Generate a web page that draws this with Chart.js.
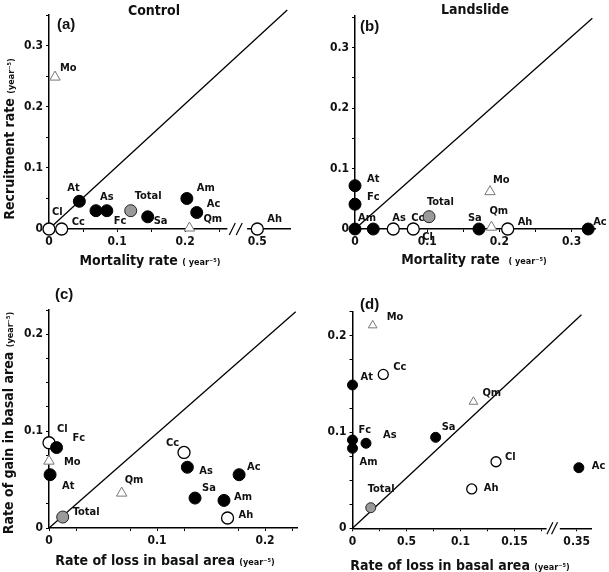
<!DOCTYPE html>
<html>
<head>
<meta charset="utf-8">
<script src="https://cdn.jsdelivr.net/npm/chart.js@4.4.1/dist/chart.umd.min.js"></script>
<style>
  body { margin: 0; background: #fff; width: 609px; height: 572px; position: relative; overflow: hidden;
         font-family: 'Liberation Sans Narrow', 'DejaVu Sans Condensed', sans-serif; font-weight: bold; color: #111; }
  .panel { position: absolute; }
  .txt { position: absolute; white-space: nowrap; line-height: 1; transform: translate(-50%, -50%); }
  .rot { transform: translate(-50%, -50%) rotate(-90deg); }
  .unit { font-size: 9px; }
  .letter { font-family: 'Liberation Sans', Arial, sans-serif; font-size: 15px; transform: translate(0, -50%); }
  .head { font-size: 14px; }
  .axt { font-size: 14px; }
</style>
</head>
<body>
<div class="panel" style="left:0;top:0"><canvas id="pa" width="305" height="280"></canvas></div>
<div class="panel" style="left:305px;top:0"><canvas id="pb" width="304" height="280"></canvas></div>
<div class="panel" style="left:0;top:280px"><canvas id="pc" width="305" height="292"></canvas></div>
<div class="panel" style="left:305px;top:280px"><canvas id="pd" width="304" height="292"></canvas></div>

<div class="txt head" style="left:154px;top:10px">Control</div>
<div class="txt head" style="left:475px;top:9px">Landslide</div>
<div class="txt letter" style="left:57px;top:23px">(a)</div>
<div class="txt letter" style="left:360px;top:25px">(b)</div>
<div class="txt letter" style="left:55px;top:293px">(c)</div>
<div class="txt letter" style="left:360px;top:303px">(d)</div>

<div class="txt axt rot" style="left:9px;top:139px">Recruitment rate <span class="unit">(year⁻⁵)</span></div>
<div class="txt axt" style="left:150px;top:260px">Mortality rate <span class="unit">( year⁻⁵)</span></div>
<div class="txt axt" style="left:474px;top:259px">Mortality rate &nbsp;<span class="unit">( year⁻⁵)</span></div>
<div class="txt axt rot" style="left:8px;top:423px">Rate of gain in basal area <span class="unit">(year⁻⁵)</span></div>
<div class="txt axt" style="left:165px;top:560px">Rate of loss in basal area <span class="unit">(year⁻⁵)</span></div>
<div class="txt axt" style="left:460px;top:565px">Rate of loss in basal area <span class="unit">(year⁻⁵)</span></div>

<script>
// species order used by every panel
const species = ["Ac", "Ah", "Am", "As", "At", "Cc", "Cl", "Fc", "Mo", "Qm", "Sa", "Total"];
const groups  = ["filled", "open", "filled", "filled", "filled", "open", "open", "filled", "triangle", "triangle", "filled", "total"];

// (a) Control: mortality vs recruitment
const mortControl    = [0.217, 0.5, 0.2025, 0.069, 0.0446, 0.0186, 0, 0.0849, 0.0088, 0.2063, 0.145, 0.12];
const recruitControl = [0.027, 0, 0.05, 0.03, 0.0454, 0, 0, 0.03, 0.249, 0.0016, 0.02, 0.03];
// (b) Landslide: mortality vs recruitment
const mortSlide      = [0.323, 0.2115, 0, 0.0253, 0, 0.053, 0.0807, 0, 0.187, 0.189, 0.1717, 0.1025];
const recruitSlide   = [0, 0, 0, 0, 0.0717, 0, 0, 0.041, 0.0618, 0.003, 0, 0.0204];
// (c) Control: loss vs gain in basal area
const lossControl    = [0.176, 0.1653, 0.162, 0.1281, 0.001, 0.125, 0, 0.007, 0, 0.0673, 0.1352, 0.0127];
const gainControl    = [0.055, 0.0103, 0.0285, 0.0627, 0.055, 0.078, 0.088, 0.083, 0.069, 0.036, 0.0309, 0.0113];
// (d) Landslide: loss vs gain in basal area
const lossSlide      = [0.352, 0.1104, 0, 0.0125, 0, 0.0285, 0.1329, 0, 0.0187, 0.112, 0.077, 0.0169];
const gainSlide      = [0.063, 0.0409, 0.0832, 0.0884, 0.149, 0.160, 0.0692, 0.0918, 0.211, 0.1316, 0.0946, 0.0214];

// 1:1 line end points
const diagA = [0.35, 0.359];
const diagB = [0.3287, 0.349];
const diagC = [0.2284, 0.2233];
const diagD = [0.212, 0.222];

// tick labels
const xTicksA = [0, 0.1, 0.2, 0.5],  xLabelsA = ["0", "0.1", "0.2", "0.5"];
const xTicksB = [0, 0.1, 0.2, 0.3],  xLabelsB = ["0", "0.1", "0.2", "0.3"];
const yTicksAB = [0, 0.1, 0.2, 0.3], yLabelsAB = ["0", "0.1", "0.2", "0.3"];
const xTicksC = [0, 0.1, 0.2],       xLabelsC = ["0", "0.1", "0.2"];
const xTicksD = [0, 0.05, 0.1, 0.15, 0.35], xLabelsD = ["0", "0.5", "0.1", "0.15", "0.35"];
const yTicksCD = [0, 0.1, 0.2],      yLabelsCD = ["0", "0.1", "0.2"];

// label offsets (px) from each marker, same order as species
const offA = [[10,-8],[10,-10],[10,-10],[4,-14],[-12,-13],[10,-7],[3,-17],[7,10],[5,-9],[14,-9],[6,4],[4,-15]];
const offB = [[5,-7],[10,-7],[3,-11],[19,-11],[12,-7],[18,-11],[9,8],[12,-7],[3,-12],[-2,-16],[-11,-11],[-2,-15]];
const offC = [[8,-8],[11,-3],[10,-3],[12,4],[12,11],[-18,-9],[8,-14],[16,-9],[15,1],[3,-13],[7,-10],[10,-5]];
const offD = [[13,-2],[12,-1],[7,14],[17,-8],[8,-8],[10,-7],[9,-5],[6,-10],[14,-8],[9,-9],[6,-10],[-3,-19]];

const FONT = "'Liberation Sans Narrow', 'DejaVu Sans Condensed', sans-serif";

const markerStyle = {
  filled:   { pointStyle: "circle",   backgroundColor: "#000", borderColor: "#000", borderWidth: 1 },
  open:     { pointStyle: "circle",   backgroundColor: "#fff", borderColor: "#000", borderWidth: 1.3 },
  triangle: { pointStyle: "triangle", backgroundColor: "#fff", borderColor: "#777", borderWidth: 1 },
  total:    { pointStyle: "circle",   backgroundColor: "#9a9a9a", borderColor: "#222", borderWidth: 1 }
};

function range(a, b, step) {
  const out = [];
  for (let v = a; v <= b + 1e-9; v += step) out.push(Math.round(v * 10000) / 10000);
  return out;
}

// species labels drawn next to the markers
const pointLabels = {
  id: "pointLabels",
  afterDatasetsDraw(chart) {
    const ctx = chart.ctx;
    ctx.save();
    ctx.font = "bold 11px " + FONT;
    ctx.fillStyle = "#111";
    ctx.textBaseline = "middle";
    chart.data.datasets.forEach((ds, i) => {
      if (!ds.names) return;
      chart.getDatasetMeta(i).data.forEach((el, j) => {
        ctx.fillText(ds.names[j], el.x + ds.offsets[j][0], el.y + ds.offsets[j][1]);
      });
    });
    ctx.restore();
  }
};

// gap and "//" marks on a broken x axis
const axisBreak = {
  id: "axisBreak",
  afterDraw(chart, args, opts) {
    if (!opts || opts.cut == null) return;
    const xs = chart.scales.x, ctx = chart.ctx;
    const yb = chart.chartArea.bottom;
    const p1 = xs.getPixelForValue(opts.cut), p2 = xs.getPixelForValue(opts.resume);
    ctx.save();
    ctx.fillStyle = "#fff";
    ctx.fillRect(p1, yb - 3, p2 - p1, 6);
    ctx.strokeStyle = "#000";
    ctx.lineWidth = 1.2;
    const w = p2 - p1;
    [0.25, 0.6].forEach(f => {
      ctx.beginPath();
      ctx.moveTo(p1 + w * f - 3, yb + 6);
      ctx.lineTo(p1 + w * f + 3, yb - 6);
      ctx.stroke();
    });
    ctx.restore();
  }
};

function makePanel(id, p) {
  const canvas = document.getElementById(id);
  const W = canvas.width, H = canvas.height;
  const show = x => (p.brk && x > p.brk.cut) ? p.brk.shown + (x - p.brk.real) : x;

  const datasets = [];
  ["filled", "open", "triangle", "total"].forEach(g => {
    const idx = species.map((s, i) => i).filter(i => groups[i] === g);
    datasets.push(Object.assign({
      label: g,
      data: idx.map(i => ({ x: show(p.xs[i]), y: p.ys[i] })),
      names: idx.map(i => species[i]),
      offsets: idx.map(i => p.off[i]),
      pointRadius: p.r,
      pointHoverRadius: p.r,
      clip: false,
      order: 1
    }, markerStyle[g]));
  });
  datasets.push({
    type: "line",
    label: "1:1",
    data: [{ x: 0, y: 0 }, { x: p.diag[0], y: p.diag[1] }],
    borderColor: "#000",
    borderWidth: 1.3,
    pointRadius: 0,
    clip: false,
    order: 5
  });

  const xMajor = p.xTicks.map(show);
  const yMajor = p.yTicks;
  const tickFont = { family: FONT, size: 12, weight: "bold" };
  const lab = (vals, labels) => v => {
    const k = vals.findIndex(t => Math.abs(t - v) < 1e-6);
    return k >= 0 ? labels[k] : "";
  };

  new Chart(canvas, {
    type: "scatter",
    data: { datasets },
    options: {
      responsive: false,
      animation: false,
      events: [],
      layout: { padding: { left: 0, top: p.top, right: W - p.right, bottom: 0 } },
      plugins: { legend: { display: false }, tooltip: { enabled: false }, axisBreak: p.brk || {} },
      scales: {
        x: {
          type: "linear", min: 0, max: p.xMax,
          afterFit: s => { s.height = H - p.bottom; },
          afterBuildTicks: s => { s.ticks = p.xMinor.map(show).concat(xMajor).sort((a, b) => a - b).map(v => ({ value: v })); },
          ticks: { autoSkip: false, maxRotation: 0, padding: 3, color: "#111", font: tickFont, callback: lab(xMajor, p.xLabels) },
          grid: { drawOnChartArea: false, drawTicks: true, tickLength: 3, color: "#000" },
          border: { display: true, color: "#000", width: 1.5 }
        },
        y: {
          type: "linear", min: 0, max: p.yMax,
          afterFit: s => { s.width = p.left; },
          afterBuildTicks: s => { s.ticks = p.yMinor.concat(yMajor).sort((a, b) => a - b).map(v => ({ value: v })); },
          ticks: { autoSkip: false, padding: 3, color: "#111", font: tickFont, callback: lab(yMajor, p.yLabels) },
          grid: { drawOnChartArea: false, drawTicks: true, tickLength: 3, color: "#000" },
          border: { display: true, color: "#000", width: 1.5 }
        }
      }
    },
    plugins: [pointLabels, axisBreak]
  });
}

makePanel("pa", {
  xs: mortControl, ys: recruitControl, off: offA, diag: diagA, r: 6,
  left: 49, right: 290, top: 15, bottom: 229, xMax: 0.354, yMax: 0.3508,
  xTicks: xTicksA, xLabels: xLabelsA, xMinor: [0.05, 0.15, 0.25],
  yTicks: yTicksAB, yLabels: yLabelsAB, yMinor: [0.05, 0.15, 0.25, 0.35],
  brk: { cut: 0.262, resume: 0.291, real: 0.5, shown: 0.306 }
});
makePanel("pb", {
  xs: mortSlide, ys: recruitSlide, off: offB, diag: diagB, r: 6,
  left: 50, right: 290, top: 16, bottom: 229, xMax: 0.3324, yMax: 0.3526,
  xTicks: xTicksB, xLabels: xLabelsB, xMinor: [0.05, 0.15, 0.25],
  yTicks: yTicksAB, yLabels: yLabelsAB, yMinor: [0.05, 0.15, 0.25, 0.35]
});
makePanel("pc", {
  xs: lossControl, ys: gainControl, off: offC, diag: diagC, r: 6,
  left: 49, right: 297, top: 30, bottom: 248, xMax: 0.2296, yMax: 0.225,
  xTicks: xTicksC, xLabels: xLabelsC, xMinor: range(0.025, 0.225, 0.05),
  yTicks: yTicksCD, yLabels: yLabelsCD, yMinor: range(0.025, 0.225, 0.025).filter(v => yTicksCD.indexOf(v) < 0)
});
makePanel("pd", {
  xs: lossSlide, ys: gainSlide, off: offD, diag: diagD, r: 5,
  left: 47.5, right: 286.7, top: 31.7, bottom: 248.3, xMax: 0.2215, yMax: 0.2252,
  xTicks: xTicksD, xLabels: xLabelsD, xMinor: [0.025, 0.075, 0.125, 0.175],
  yTicks: yTicksCD, yLabels: yLabelsCD, yMinor: range(0.025, 0.225, 0.025).filter(v => yTicksCD.indexOf(v) < 0),
  brk: { cut: 0.1797, resume: 0.192, real: 0.35, shown: 0.2076 }
});
</script>
</body>
</html>
